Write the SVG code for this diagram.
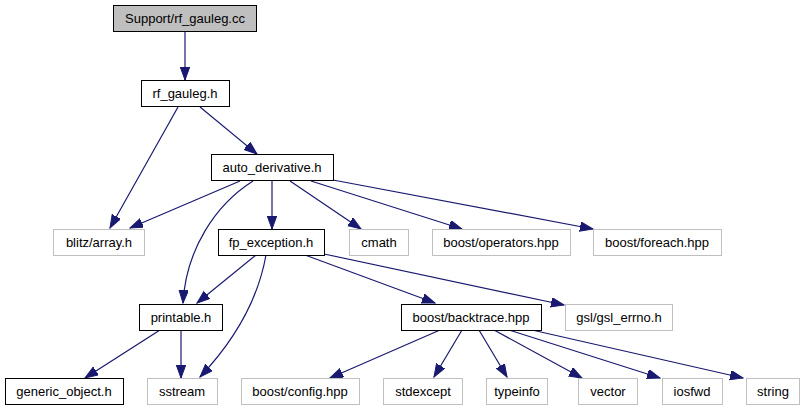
<svg xmlns="http://www.w3.org/2000/svg" width="806" height="411" viewBox="0 0 806 411">
<style>
text{font-family:"Liberation Sans",Arial,sans-serif;font-size:13px;text-anchor:middle;fill:#000}
.n rect{fill:#fff;stroke:#000;stroke-width:1}
.x rect{fill:#fff;stroke:#bfbfbf;stroke-width:1}
.r rect{fill:#bfbfbf;stroke:#000;stroke-width:1}
#edges path{fill:none;stroke:#191970;stroke-width:1.2;marker-end:url(#ah)}
</style>
<defs>
<marker id="ah" markerUnits="userSpaceOnUse" markerWidth="14" markerHeight="11" refX="13" refY="4.75" orient="auto">
<path d="M0,0 L13,4.75 L0,9.5 z" fill="#191970" stroke="#191970" stroke-width="1"/>
</marker>
</defs>
<rect width="806" height="411" fill="#fff"/>
<g id="edges">
<path d="M185,31 L185,80"/>
<path d="M178,107 L110,228"/>
<path d="M200,107 L257,154"/>
<path d="M240,181 L130,228"/>
<path d="M253,181 C215,205 186,250 183,303"/>
<path d="M272,181 L272,229"/>
<path d="M290,181 L361,229"/>
<path d="M311,181 L462,229"/>
<path d="M333,180 L593,229"/>
<path d="M256,255 L197,303"/>
<path d="M266,255 C258,300 235,340 200,377"/>
<path d="M305,255 L435,303"/>
<path d="M324,254 L564,305"/>
<path d="M160,330 L85,378"/>
<path d="M181,330 L181,378"/>
<path d="M440,330 L330,378"/>
<path d="M462,330 L434,377"/>
<path d="M479,330 L507,377"/>
<path d="M494,330 L582,378"/>
<path d="M509,330 L660,378"/>
<path d="M532,330 L743,378"/>
</g>
<g id="n_rf_gauleg_cc" class="r"><rect x="113.5" y="5.5" width="143" height="26"/><text x="185" y="23">Support/rf_gauleg.cc</text></g>
<g id="n_rf_gauleg_h" class="n"><rect x="141.5" y="80.5" width="88" height="26"/><text x="185" y="98">rf_gauleg.h</text></g>
<g id="n_auto_derivative" class="n"><rect x="211.5" y="154.5" width="122" height="26"/><text x="272" y="172">auto_derivative.h</text></g>
<g id="n_blitz" class="x"><rect x="53.5" y="229.5" width="91" height="26"/><text x="99" y="247">blitz/array.h</text></g>
<g id="n_fp_exception" class="n"><rect x="218.5" y="229.5" width="106" height="26"/><text x="271" y="247">fp_exception.h</text></g>
<g id="n_cmath" class="x"><rect x="349.5" y="229.5" width="59" height="26"/><text x="379" y="247">cmath</text></g>
<g id="n_operators" class="x"><rect x="432.5" y="229.5" width="138" height="26"/><text x="501" y="247">boost/operators.hpp</text></g>
<g id="n_foreach" class="x"><rect x="593.5" y="229.5" width="128" height="26"/><text x="657" y="247">boost/foreach.hpp</text></g>
<g id="n_printable" class="n"><rect x="139.5" y="304.5" width="83" height="26"/><text x="181" y="322">printable.h</text></g>
<g id="n_backtrace" class="n"><rect x="401.5" y="304.5" width="140" height="26"/><text x="471" y="322">boost/backtrace.hpp</text></g>
<g id="n_gsl" class="x"><rect x="565.5" y="304.5" width="107" height="26"/><text x="619" y="322">gsl/gsl_errno.h</text></g>
<g id="n_generic" class="n"><rect x="5.5" y="378.5" width="118" height="26"/><text x="64" y="396">generic_object.h</text></g>
<g id="n_sstream" class="x"><rect x="147.5" y="378.5" width="70" height="26"/><text x="182" y="396">sstream</text></g>
<g id="n_config" class="x"><rect x="241.5" y="378.5" width="118" height="26"/><text x="300" y="396">boost/config.hpp</text></g>
<g id="n_stdexcept" class="x"><rect x="383.5" y="378.5" width="79" height="26"/><text x="423" y="396">stdexcept</text></g>
<g id="n_typeinfo" class="x"><rect x="486.5" y="378.5" width="61" height="26"/><text x="517" y="396">typeinfo</text></g>
<g id="n_vector" class="x"><rect x="578.5" y="378.5" width="59" height="26"/><text x="608" y="396">vector</text></g>
<g id="n_iosfwd" class="x"><rect x="662.5" y="378.5" width="60" height="26"/><text x="692" y="396">iosfwd</text></g>
<g id="n_string" class="x"><rect x="746.5" y="378.5" width="53" height="26"/><text x="773" y="396">string</text></g>
</svg>
